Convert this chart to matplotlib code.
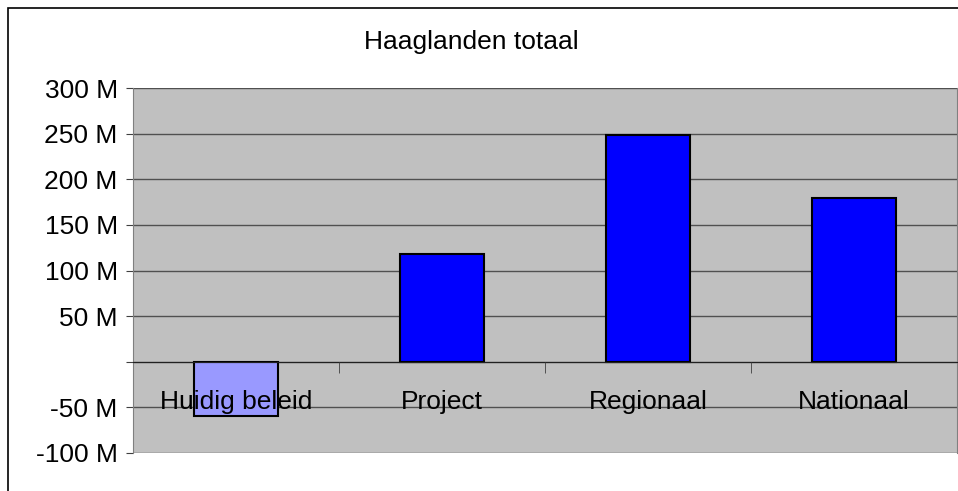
import matplotlib
matplotlib.use("Agg")
import matplotlib.pyplot as plt
from matplotlib.patches import Rectangle
from matplotlib.ticker import FuncFormatter, FixedLocator

categories = ["Huidig beleid", "Project", "Regionaal", "Nationaal"]
values = [-59, 118, 248, 180]  # in millions
bar_colors = ["#9999FF", "#0000FF", "#0000FF", "#0000FF"]
yticks = [-100, -50, 0, 50, 100, 150, 200, 250, 300]
title = "Haaglanden totaal"

plt.rcParams['font.family'] = ['Liberation Sans', 'DejaVu Sans']

W, H = 958, 491
fig = plt.figure(figsize=(W / 100, H / 100), dpi=100)
fig.patch.set_facecolor("white")

# outer chart border
fig.patches.append(Rectangle((8 / W, -0.01), 1.0, 1.0 - 8 / H + 0.01, transform=fig.transFigure,
                             fill=False, edgecolor="black", linewidth=1.2))

ax = fig.add_axes([133 / W, 38 / H, (957 - 133) / W, (453 - 88) / H])
ax.set_facecolor("#C0C0C0")

x = list(range(len(categories)))
ax.bar(x, values, width=0.41, color=bar_colors, edgecolor="black", linewidth=1.5, zorder=3)

ax.set_xlim(-0.5, len(categories) - 0.5)
ax.set_ylim(-100, 300)
ax.set_yticks(yticks)
ax.yaxis.set_major_formatter(FuncFormatter(lambda v, p: "" if v == 0 else f"{int(v)} M"))
ax.grid(axis="y", color="#505050", linewidth=1)
ax.set_axisbelow(True)
ax.xaxis.set_zorder(5)

ax.spines["bottom"].set_position(("data", 0))
ax.spines["bottom"].set_color("#202020")
ax.spines["bottom"].set_zorder(4)
ax.spines["top"].set_visible(False)
ax.spines["left"].set_color("#808080")
ax.spines["right"].set_color("#808080")

ax.set_xticks(x)
ax.set_xticklabels(categories)
ax.xaxis.set_minor_locator(FixedLocator([i + 0.5 for i in range(len(categories) - 1)]))
ax.tick_params(axis="x", which="major", length=0, pad=20, labelsize=19)
ax.tick_params(axis="x", which="minor", length=8, color="#404040", direction="out")
ax.tick_params(axis="y", length=5, color="#404040", pad=6, labelsize=19)

fig.text(471 / W, 1 - 42 / H, title, ha="center", va="center", fontsize=19)

fig.savefig("out.png", dpi=100)
